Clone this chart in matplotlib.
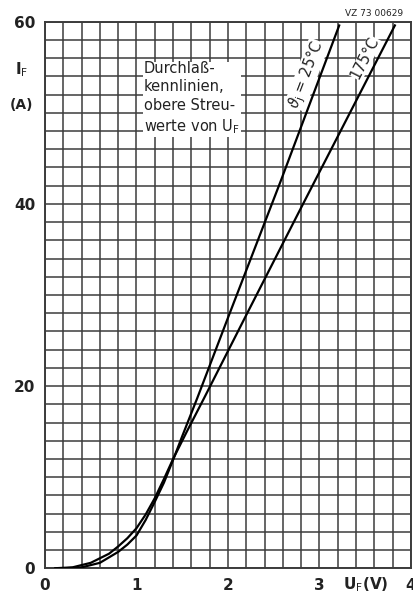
import numpy as np
import matplotlib
matplotlib.use("Agg")
import matplotlib.pyplot as plt

# forward characteristics
u_25 = [0.2, 0.4, 0.6, 0.8, 0.9, 1.0, 1.1, 1.2, 1.3, 1.4, 1.5, 1.665, 2.0, 2.58, 3.22]
i_25 = [0.0, 0.1, 0.6, 1.8, 2.6, 3.6, 5.3, 7.3, 9.4, 11.9, 14.5, 18.7, 27.5, 42.6, 59.7]

u_175 = [0.1, 0.3, 0.5, 0.6, 0.7, 0.8, 0.9, 1.0, 1.1, 1.2, 1.3, 1.4, 1.55, 1.74, 2.2, 2.78, 3.83]
i_175 = [0.0, 0.1, 0.6, 1.1, 1.6, 2.4, 3.3, 4.4, 5.9, 7.7, 9.8, 12.0, 15.0, 18.7, 27.8, 39.2, 59.7]

x_ticks = [0, 1, 2, 3, 4]
x_labels = ["0", "1", "2", "3", "4"]
y_ticks = [0, 20, 40, 60]
y_labels = ["0", "20", "40", "60"]

grid_col = "#3c3c3c"

fig = plt.figure(figsize=(4.13, 5.98), dpi=100)
ax = fig.add_axes([0.109, 0.0497, 0.886, 0.914])

ax.set_xlim(0, 4)
ax.set_ylim(0, 60)

# square millimetre-paper style grid
for xv in np.arange(0, 4.01, 0.2):
    ax.axvline(xv, color=grid_col, lw=1.1, zorder=1)
for yv in np.arange(0, 60.1, 2):
    ax.axhline(yv, color=grid_col, lw=1.1, zorder=1)

for s in ax.spines.values():
    s.set_color(grid_col)
    s.set_linewidth(1.4)

ax.plot(u_25, i_25, color="k", lw=1.6, zorder=3, solid_capstyle="butt")
ax.plot(u_175, i_175, color="k", lw=1.6, zorder=3, solid_capstyle="butt")

ax.set_xticks(x_ticks)
ax.set_xticklabels(x_labels)
ax.set_yticks(y_ticks)
ax.set_yticklabels(y_labels)
ax.tick_params(length=0, labelsize=11, colors="#222222", pad=7)
for lab in ax.get_xticklabels():
    lab.set_fontweight("bold")
for lab in ax.get_yticklabels():
    lab.set_fontweight("bold")

wbox = dict(facecolor="white", edgecolor="none", pad=0.5)
tbox = dict(facecolor="white", edgecolor="none", pad=0.0)

ax.text(1.08, 55.7, "Durchlaß-\nkennlinien,\nobere Streu-\nwerte von U$_\\mathrm{F}$",
        ha="left", va="top", fontsize=10.5, linespacing=1.3, color="#222222",
        bbox=wbox, zorder=4)

ax.text(2.86, 54.2, r"$\vartheta_\mathrm{j}$ = 25°C", rotation=69, ha="center",
        va="center", fontsize=10.5, color="#222222", bbox=tbox, zorder=4,
        rotation_mode="anchor")
ax.text(3.50, 56.0, "175°C", rotation=63, ha="center", va="center",
        fontsize=10.5, color="#222222", bbox=tbox, zorder=4,
        rotation_mode="anchor")

fig.text(0.053, 0.883, r"I$_\mathrm{F}$", ha="center", va="center",
         fontsize=11, color="#222222", fontweight="bold")
fig.text(0.053, 0.825, "(A)", ha="center", va="center",
         fontsize=10, color="#222222", fontweight="bold")
fig.text(0.885, 0.022, r"U$_\mathrm{F}$(V)", ha="center", va="center",
         fontsize=11, color="#222222", fontweight="bold")
fig.text(0.906, 0.977, "VZ 73 00629", ha="center", va="center",
         fontsize=6.5, color="#222222")

fig.savefig("out.png", dpi=100)
